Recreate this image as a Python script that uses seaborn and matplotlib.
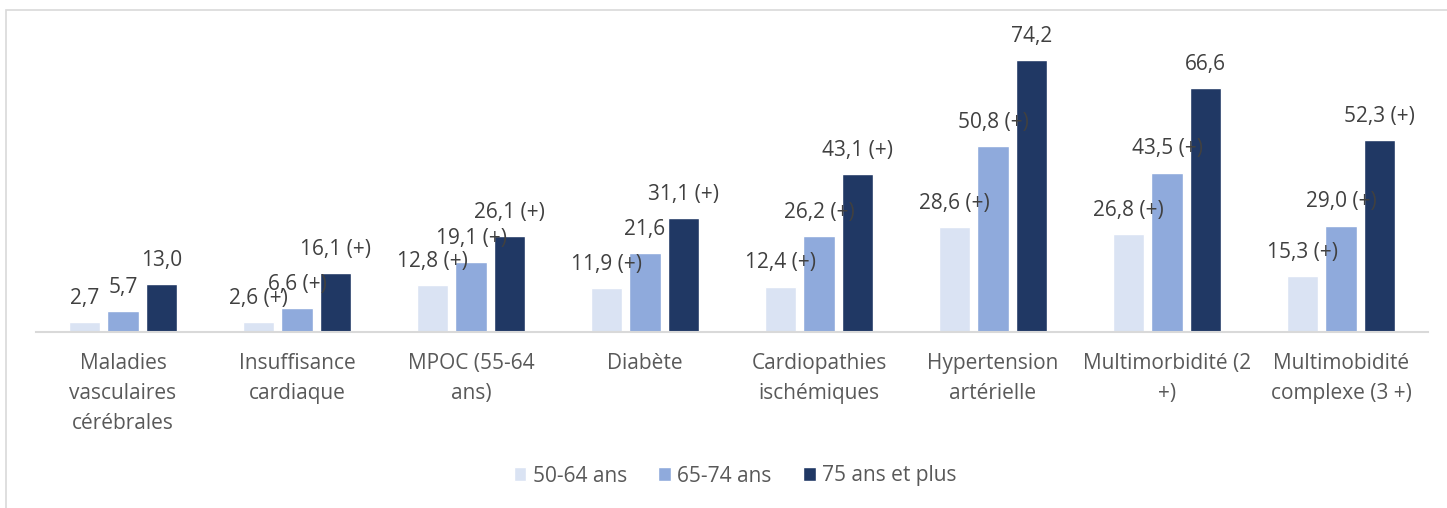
import pandas as pd
import matplotlib.pyplot as plt
import seaborn as sns
from matplotlib.patches import Rectangle

categories = [
    "Maladies\nvasculaires\ncérébrales",
    "Insuffisance\ncardiaque",
    "MPOC (55-64\nans)",
    "Diabète",
    "Cardiopathies\nischémiques",
    "Hypertension\nartérielle",
    "Multimorbidité (2\n+)",
    "Multimobidité\ncomplexe (3 +)",
]
groups = ["50-64 ans", "65-74 ans", "75 ans et plus"]
vals_50_64 = [2.7, 2.6, 12.8, 11.9, 12.4, 28.6, 26.8, 15.3]
vals_65_74 = [5.7, 6.6, 19.1, 21.6, 26.2, 50.8, 43.5, 29.0]
vals_75_plus = [13.0, 16.1, 26.1, 31.1, 43.1, 74.2, 66.6, 52.3]
# significance marker "(+)" per bar
sig_50_64 = [False, True, True, True, True, True, True, True]
sig_65_74 = [False, True, True, False, True, True, True, True]
sig_75_plus = [False, True, True, True, True, False, False, True]

colors = ["#DAE3F3", "#8FAADC", "#203864"]

rows = []
for g, vals in zip(groups, [vals_50_64, vals_65_74, vals_75_plus]):
    for c, v in zip(categories, vals):
        rows.append({"cat": c, "val": v, "group": g})
df = pd.DataFrame(rows)

sns.set_style("white")
plt.rcParams["font.family"] = ["Open Sans", "DejaVu Sans"]

fig = plt.figure(figsize=(14.47, 5.08), dpi=100)
ax = fig.add_axes([36 / 1447, 176 / 508, 1392 / 1447, 312 / 508])

sns.barplot(data=df, x="cat", y="val", hue="group", palette=colors, saturation=1,
            width=0.67, gap=0.2, ax=ax, legend=True)

def fmt(v, s):
    t = f"{v:.1f}".replace(".", ",")
    return t + " (+)" if s else t

for cont, vals, sigs in zip(ax.containers, [vals_50_64, vals_65_74, vals_75_plus],
                            [sig_50_64, sig_65_74, sig_75_plus]):
    ax.bar_label(cont, labels=[fmt(v, s) for v, s in zip(vals, sigs)],
                 padding=9.5, fontsize=15, color="#404040")

ax.set_ylim(0, 312 / 3.666)
ax.set_xlim(-0.5, 7.5)
ax.set_xlabel("")
ax.set_ylabel("")
ax.set_yticks([])
ax.tick_params(axis="x", length=0, pad=15, labelsize=15, labelcolor="#595959")
for lbl in ax.get_xticklabels():
    lbl.set_linespacing(1.56)
    lbl.set_verticalalignment("top")
for side in ["top", "right", "left"]:
    ax.spines[side].set_visible(False)
ax.spines["bottom"].set_color("#D9D9D9")
ax.spines["bottom"].set_linewidth(1.5)

ax.legend(loc="center", bbox_to_anchor=(0.508, 32 / 508), bbox_transform=fig.transFigure,
          ncol=3, frameon=False, fontsize=15, labelcolor="#595959",
          handlelength=0.62, handleheight=0.62, handletextpad=0.3, columnspacing=1.5)

fig.patches.append(Rectangle((6 / 1447, -0.1), 1.2, 1.1 - 10 / 508, transform=fig.transFigure,
                             fill=False, edgecolor="#D9D9D9", linewidth=1.2))

fig.savefig("out.png", dpi=100)
